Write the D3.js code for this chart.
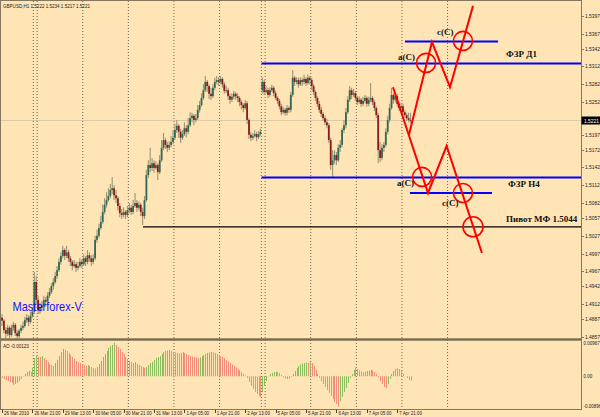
<!DOCTYPE html>
<html><head><meta charset="utf-8">
<script src="https://cdn.jsdelivr.net/npm/d3@7/dist/d3.min.js"></script>
<style>
html,body{margin:0;padding:0;background:#ffe4b5;}
svg{display:block;}
</style></head><body>
<svg id="c" width="600" height="417"></svg>
<script>
// ---------- DATA ----------
const symbol = "GBPUSD,H1";
const opens = [
1.4889,1.4884,1.4868,1.4862,1.4872,1.4860,1.4872,1.4877,1.4863,1.4858,
1.4867,1.4872,1.4875,1.4885,1.4889,1.4882,1.4892,1.4899,1.4949,1.4919,
1.4902,1.4906,1.4911,1.4919,1.4916,1.4926,1.4932,1.4942,1.4949,1.4959,
1.4969,1.4983,1.4993,1.5003,1.4993,1.4999,1.4989,1.4983,1.4976,1.4979,
1.4973,1.4976,1.4983,1.4979,1.4989,1.4983,1.4994,1.4989,1.4983,1.4989,
1.5020,1.5027,1.5040,1.5050,1.5067,1.5079,1.5087,1.5094,1.5104,1.5107,
1.5095,1.5090,1.5077,1.5065,1.5062,1.5067,1.5062,1.5070,1.5074,1.5067,
1.5077,1.5082,1.5074,1.5079,1.5067,1.5060,1.5087,1.5129,1.5146,1.5141,
1.5149,1.5141,1.5146,1.5134,1.5154,1.5175,1.5188,1.5180,1.5175,1.5180,
1.5185,1.5192,1.5205,1.5212,1.5202,1.5192,1.5198,1.5208,1.5202,1.5213,
1.5225,1.5229,1.5222,1.5225,1.5239,1.5247,1.5259,1.5272,1.5286,1.5279,
1.5266,1.5262,1.5276,1.5286,1.5289,1.5286,1.5291,1.5282,1.5271,1.5272,
1.5262,1.5256,1.5261,1.5266,1.5262,1.5259,1.5252,1.5247,1.5242,1.5250,
1.5222,1.5197,1.5192,1.5195,1.5198,1.5193,1.5198,1.5272,1.5286,1.5269,
1.5272,1.5264,1.5272,1.5276,1.5267,1.5259,1.5254,1.5245,1.5235,1.5239,
1.5234,1.5242,1.5239,1.5264,1.5293,1.5286,1.5289,1.5282,1.5289,1.5286,
1.5291,1.5284,1.5293,1.5289,1.5279,1.5269,1.5259,1.5249,1.5239,1.5232,
1.5225,1.5218,1.5213,1.5188,1.5146,1.5154,1.5163,1.5154,1.5175,1.5180,
1.5205,1.5213,1.5235,1.5256,1.5272,1.5264,1.5267,1.5259,1.5252,1.5256,
1.5249,1.5254,1.5259,1.5249,1.5256,1.5259,1.5252,1.5242,1.5230,1.5171,
1.5158,1.5175,1.5180,1.5202,1.5222,1.5242,1.5264,1.5256,1.5262,1.5249,
1.5242,1.5245,1.5235,1.5230,1.5225,1.5222];
const highs = [
1.4895,1.4887,1.4873,1.4877,1.4875,1.4877,1.4882,1.4880,1.4868,1.4870,
1.4877,1.4882,1.4890,1.4895,1.4893,1.4899,1.4906,1.4966,1.4959,1.4926,
1.4914,1.4917,1.4926,1.4924,1.4932,1.4939,1.4947,1.4956,1.4966,1.4976,
1.4989,1.4999,1.5010,1.5006,1.5010,1.5003,1.4993,1.4986,1.4986,1.4983,
1.4983,1.4989,1.4988,1.4996,1.4993,1.5003,1.4999,1.4994,1.4996,1.5027,
1.5037,1.5047,1.5060,1.5079,1.5090,1.5100,1.5107,1.5114,1.5126,1.5112,
1.5104,1.5094,1.5082,1.5072,1.5075,1.5070,1.5077,1.5082,1.5079,1.5087,
1.5099,1.5087,1.5085,1.5082,1.5074,1.5094,1.5138,1.5154,1.5175,1.5158,
1.5154,1.5153,1.5149,1.5163,1.5188,1.5200,1.5192,1.5185,1.5186,1.5195,
1.5205,1.5215,1.5222,1.5215,1.5207,1.5205,1.5218,1.5213,1.5225,1.5235,
1.5234,1.5232,1.5232,1.5247,1.5254,1.5267,1.5282,1.5296,1.5289,1.5282,
1.5276,1.5282,1.5293,1.5296,1.5294,1.5296,1.5294,1.5286,1.5279,1.5276,
1.5266,1.5267,1.5271,1.5269,1.5267,1.5262,1.5256,1.5250,1.5256,1.5254,
1.5225,1.5202,1.5200,1.5205,1.5202,1.5203,1.5207,1.5294,1.5289,1.5279,
1.5276,1.5277,1.5281,1.5279,1.5271,1.5262,1.5257,1.5249,1.5244,1.5242,
1.5247,1.5245,1.5269,1.5306,1.5296,1.5294,1.5293,1.5294,1.5293,1.5298,
1.5294,1.5299,1.5296,1.5293,1.5282,1.5272,1.5262,1.5254,1.5244,1.5235,
1.5229,1.5224,1.5217,1.5192,1.5171,1.5171,1.5168,1.5181,1.5188,1.5208,
1.5222,1.5242,1.5262,1.5279,1.5276,1.5274,1.5271,1.5262,1.5262,1.5259,
1.5261,1.5264,1.5262,1.5261,1.5284,1.5262,1.5256,1.5245,1.5234,1.5185,
1.5181,1.5185,1.5208,1.5229,1.5249,1.5276,1.5267,1.5269,1.5266,1.5252,
1.5250,1.5249,1.5239,1.5234,1.5234,1.5234];
const lows = [
1.4875,1.4863,1.4855,1.4858,1.4855,1.4857,1.4867,1.4858,1.4855,1.4855,
1.4863,1.4868,1.4872,1.4880,1.4875,1.4879,1.4889,1.4895,1.4911,1.4895,
1.4895,1.4900,1.4907,1.4907,1.4912,1.4922,1.4929,1.4936,1.4946,1.4954,
1.4966,1.4978,1.4989,1.4986,1.4989,1.4983,1.4976,1.4969,1.4973,1.4966,
1.4969,1.4973,1.4973,1.4976,1.4976,1.4979,1.4983,1.4976,1.4979,1.4986,
1.5015,1.5023,1.5037,1.5047,1.5063,1.5074,1.5084,1.5090,1.5097,1.5087,
1.5082,1.5070,1.5058,1.5055,1.5058,1.5055,1.5058,1.5065,1.5062,1.5063,
1.5074,1.5067,1.5070,1.5060,1.5045,1.5055,1.5084,1.5124,1.5134,1.5136,
1.5133,1.5138,1.5121,1.5131,1.5151,1.5171,1.5173,1.5168,1.5171,1.5176,
1.5181,1.5188,1.5200,1.5192,1.5183,1.5188,1.5195,1.5193,1.5198,1.5210,
1.5218,1.5213,1.5218,1.5222,1.5234,1.5244,1.5256,1.5269,1.5269,1.5257,
1.5256,1.5259,1.5272,1.5282,1.5279,1.5282,1.5276,1.5266,1.5267,1.5256,
1.5249,1.5252,1.5257,1.5256,1.5252,1.5245,1.5240,1.5235,1.5239,1.5215,
1.5190,1.5186,1.5188,1.5192,1.5186,1.5190,1.5195,1.5266,1.5264,1.5266,
1.5259,1.5261,1.5269,1.5262,1.5256,1.5249,1.5240,1.5230,1.5232,1.5229,
1.5230,1.5234,1.5235,1.5261,1.5279,1.5282,1.5276,1.5279,1.5279,1.5282,
1.5279,1.5281,1.5282,1.5272,1.5264,1.5254,1.5244,1.5234,1.5227,1.5220,
1.5213,1.5208,1.5183,1.5138,1.5126,1.5148,1.5146,1.5151,1.5168,1.5176,
1.5200,1.5208,1.5232,1.5252,1.5257,1.5261,1.5254,1.5247,1.5249,1.5244,
1.5245,1.5250,1.5244,1.5245,1.5252,1.5247,1.5237,1.5225,1.5149,1.5151,
1.5154,1.5168,1.5176,1.5198,1.5218,1.5239,1.5249,1.5252,1.5244,1.5237,
1.5239,1.5230,1.5225,1.5220,1.5218,1.5217];
const closes = [
1.4884,1.4868,1.4862,1.4872,1.4860,1.4872,1.4877,1.4863,1.4858,1.4867,
1.4872,1.4875,1.4885,1.4889,1.4882,1.4892,1.4899,1.4949,1.4919,1.4902,
1.4906,1.4911,1.4919,1.4916,1.4926,1.4932,1.4942,1.4949,1.4959,1.4969,
1.4983,1.4993,1.5003,1.4993,1.4999,1.4989,1.4983,1.4976,1.4979,1.4973,
1.4976,1.4983,1.4979,1.4989,1.4983,1.4994,1.4989,1.4983,1.4989,1.5020,
1.5027,1.5040,1.5050,1.5067,1.5079,1.5087,1.5094,1.5104,1.5107,1.5095,
1.5090,1.5077,1.5065,1.5062,1.5067,1.5062,1.5070,1.5074,1.5067,1.5077,
1.5082,1.5074,1.5079,1.5067,1.5060,1.5087,1.5129,1.5146,1.5141,1.5149,
1.5141,1.5146,1.5134,1.5154,1.5175,1.5188,1.5180,1.5175,1.5180,1.5185,
1.5192,1.5205,1.5212,1.5202,1.5192,1.5198,1.5208,1.5202,1.5213,1.5225,
1.5229,1.5222,1.5225,1.5239,1.5247,1.5259,1.5272,1.5286,1.5279,1.5266,
1.5262,1.5276,1.5286,1.5289,1.5286,1.5291,1.5282,1.5271,1.5272,1.5262,
1.5256,1.5261,1.5266,1.5262,1.5259,1.5252,1.5247,1.5242,1.5250,1.5222,
1.5197,1.5192,1.5195,1.5198,1.5193,1.5198,1.5202,1.5286,1.5269,1.5272,
1.5264,1.5272,1.5276,1.5267,1.5259,1.5254,1.5245,1.5235,1.5239,1.5234,
1.5242,1.5239,1.5264,1.5293,1.5286,1.5289,1.5282,1.5289,1.5286,1.5291,
1.5284,1.5293,1.5289,1.5279,1.5269,1.5259,1.5249,1.5239,1.5232,1.5225,
1.5218,1.5213,1.5188,1.5146,1.5154,1.5163,1.5154,1.5175,1.5180,1.5205,
1.5213,1.5235,1.5256,1.5272,1.5264,1.5267,1.5259,1.5252,1.5256,1.5249,
1.5254,1.5259,1.5249,1.5256,1.5259,1.5252,1.5242,1.5230,1.5171,1.5158,
1.5175,1.5180,1.5202,1.5222,1.5242,1.5264,1.5256,1.5262,1.5249,1.5242,
1.5245,1.5235,1.5230,1.5225,1.5222,1.5221];
const aoValues = [
-0.00048,-0.00076,-0.00104,-0.00133,-0.00161,-0.00189,-0.00246,-0.00217,-0.00189,-0.00133,
-0.00076,0.00008,0.00065,0.00121,0.00149,0.00121,0.00234,0.00516,0.00572,0.00558,
0.00544,0.00572,0.00516,0.00460,0.00403,0.00347,0.00319,0.00290,0.00375,0.00460,
0.00572,0.00685,0.00770,0.00742,0.00713,0.00657,0.00601,0.00544,0.00488,0.00431,
0.00403,0.00375,0.00347,0.00319,0.00290,0.00319,0.00290,0.00262,0.00234,0.00220,
0.00262,0.00347,0.00431,0.00544,0.00629,0.00713,0.00798,0.00854,0.00883,0.00945,
0.00883,0.00826,0.00770,0.00685,0.00629,0.00544,0.00488,0.00431,0.00403,0.00375,
0.00403,0.00347,0.00319,0.00290,0.00262,0.00234,0.00262,0.00319,0.00375,0.00403,
0.00460,0.00516,0.00544,0.00572,0.00629,0.00685,0.00713,0.00727,0.00742,0.00713,
0.00685,0.00671,0.00657,0.00643,0.00657,0.00685,0.00657,0.00629,0.00601,0.00572,
0.00558,0.00544,0.00530,0.00516,0.00530,0.00572,0.00601,0.00629,0.00657,0.00671,
0.00685,0.00671,0.00657,0.00629,0.00601,0.00572,0.00544,0.00516,0.00460,0.00417,
0.00375,0.00333,0.00290,0.00248,0.00206,0.00164,0.00121,0.00065,0.00023,-0.00048,
-0.00161,-0.00274,-0.00358,-0.00443,-0.00499,-0.00556,-0.00584,-0.00443,-0.00274,-0.00133,
0.00008,0.00065,0.00093,0.00121,0.00135,0.00121,0.00093,0.00037,-0.00034,-0.00062,
-0.00076,-0.00062,-0.00020,0.00065,0.00149,0.00234,0.00290,0.00333,0.00361,0.00375,
0.00389,0.00375,0.00389,0.00375,0.00290,0.00178,0.00065,-0.00048,-0.00133,-0.00217,
-0.00302,-0.00387,-0.00471,-0.00556,-0.00640,-0.00725,-0.00781,-0.00860,-0.00697,-0.00584,
-0.00443,-0.00330,-0.00189,-0.00048,0.00065,0.00178,0.00234,0.00206,0.00164,0.00135,
0.00121,0.00135,0.00149,0.00164,0.00178,0.00164,0.00121,0.00065,-0.00034,-0.00133,
-0.00217,-0.00302,-0.00330,-0.00217,-0.00076,0.00065,0.00149,0.00206,0.00234,0.00206,
0.00149,0.00065,0.00008,-0.00048,-0.00104,-0.00123];

const timeTickBars = [0,16,32,48,64,80,96,112,128,144,160,176,192,208];
const timeTickLabels = ["26 Mar 2010","26 Mar 21:00","29 Mar 13:00","30 Mar 05:00","30 Mar 21:00",
  "31 Mar 13:00","1 Apr 05:00","1 Apr 21:00","2 Apr 13:00","5 Apr 05:00","5 Apr 21:00",
  "6 Apr 13:00","7 Apr 05:00","7 Apr 21:00"];
const priceTicks = [1.5397,1.5367,1.5342,1.5312,1.5282,1.5252,1.5197,1.5172,1.5142,1.5112,
  1.5082,1.5057,1.5027,1.4997,1.4967,1.4942,1.4912,1.4887,1.4857];
const aoTicks = [0.00967,0,-0.00896];
const aoTickLabels = ["0.00967","0.00","-0.00896"];
const daySeparators = [16.5,18.5,42.5,66.5,90.5,114.5,136.5,138.5,162.5,186.5,210.5,234.5];

// levels (price, start bar, end bar; null = to the right edge)
const levelNames = ["ФЗР Д1","ФЗР Н4","c(C) up","c(C) down","Пивот МФ 1.5044"];
const levelPrices = [1.5317,1.5125,1.5354,1.5099,1.5042];
const levelStarts = [136.6,136.6,212.1,214.7,74.2];
const levelEnds   = [null,null,261.1,257.9,null];
const levelColors = ["#0000ff","#0000ff","#0000ff","#0000ff","#000000"];

// forecast zigzags (bar index, price)
const zigzagDownBars = [205.8,224.2,234.0,252.6];
const zigzagDownPrices = [1.5277,1.5099,1.5178,1.4998];
const zigzagUpBars = [214.2,226.3,235.8,247.9];
const zigzagUpPrices = [1.5197,1.5353,1.5277,1.5414];
const circleBars = [223.2,242.6,221.1,242.6,247.9];
const circlePrices = [1.5318,1.5355,1.5126,1.5099,1.5042];

// annotations (text, bar, price)
const noteTexts = ["a(C)","c(C)","ФЗР Д1","a(C)","ФЗР Н4","c(C)","Пивот МФ 1.5044"];
const noteBars = [208.4,228.9,265.3,207.9,266.3,231.6,265.3];
const notePrices = [1.5323,1.5365,1.5328,1.5111,1.5109,1.5077,1.5050];

// ---------- DRAW ----------
const svg = d3.select("#c");
const BG = "#ffe4b5", FRAME = "#85785f";
const RIGHT = 581.5;
const x = d3.scaleLinear().domain([0,304.5]).range([2, 2+304.5*1.9]);
const y = d3.scaleLinear().domain([1.48548,1.54222]).range([338,1]);
const ya = d3.scaleLinear().domain([-0.00896,0.00967]).range([408,342]);

svg.append("rect").attr("width",600).attr("height",417).attr("fill",BG);

const defs = svg.append("defs");
defs.append("clipPath").attr("id","pc").append("rect").attr("x",1).attr("y",1).attr("width",RIGHT-1).attr("height",337);
defs.append("clipPath").attr("id","ac").append("rect").attr("x",1).attr("y",341).attr("width",RIGHT-1).attr("height",68);

// day separators
svg.append("g").selectAll("line").data(daySeparators).join("line")
  .attr("x1",d=>x(d)).attr("x2",d=>x(d)).attr("y1",1).attr("y2",409)
  .attr("stroke","#6e6656").attr("stroke-width",1).attr("stroke-dasharray","1,2");

const pg = svg.append("g").attr("clip-path","url(#pc)");
// bid line
const last = closes.length-1;
pg.append("line").attr("x1",1).attr("x2",RIGHT).attr("y1",y(closes[last])).attr("y2",y(closes[last]))
  .attr("stroke","#dccaa6").attr("stroke-width",1);

// candles
const idx = d3.range(closes.length);
pg.append("g").selectAll("line").data(idx).join("line")
  .attr("x1",i=>x(i)).attr("x2",i=>x(i)).attr("y1",i=>y(highs[i])).attr("y2",i=>y(lows[i]))
  .attr("stroke","#9c9474").attr("stroke-width",1.1);
pg.append("g").selectAll("rect").data(idx).join("rect")
  .attr("x",i=>x(i)-0.9).attr("width",1.8)
  .attr("y",i=>y(Math.max(opens[i],closes[i])))
  .attr("height",i=>Math.max(1,Math.abs(y(opens[i])-y(closes[i]))))
  .attr("fill",i=>closes[i]>=opens[i]?"#2e6a58":"#8a1c1c");

// levels
levelPrices.forEach((p,k)=>{
  pg.append("line").attr("x1",x(levelStarts[k])).attr("x2",levelEnds[k]==null?RIGHT:x(levelEnds[k]))
    .attr("y1",y(p)).attr("y2",y(p))
    .attr("stroke",levelColors[k]).attr("stroke-width",k===4?1.3:2);
});

// zigzags
const line = d3.line().x(d=>x(d[0])).y(d=>y(d[1]));
pg.append("path").attr("d",line(zigzagDownBars.map((b,i)=>[b,zigzagDownPrices[i]])))
  .attr("fill","none").attr("stroke","#ff0000").attr("stroke-width",2).attr("stroke-linejoin","miter");
pg.append("path").attr("d",line(zigzagUpBars.map((b,i)=>[b,zigzagUpPrices[i]])))
  .attr("fill","none").attr("stroke","#ff0000").attr("stroke-width",2).attr("stroke-linejoin","miter");
pg.append("g").selectAll("circle").data(circleBars).join("circle")
  .attr("cx",(b)=>x(b)).attr("cy",(b,i)=>y(circlePrices[i])).attr("r",(b,i)=>i===4?10:9.5)
  .attr("fill","none").attr("stroke","#ff0000").attr("stroke-width",1.6);

// annotations
pg.append("g").selectAll("text").data(noteTexts).join("text")
  .attr("x",(t,i)=>x(noteBars[i])).attr("y",(t,i)=>y(notePrices[i]))
  .attr("font-family","'Liberation Serif','Times New Roman',serif").attr("font-weight","bold")
  .attr("font-size",9).attr("fill","#111").text(t=>t);

// Masterforex-V
svg.append("text").attr("transform","translate(12.5,310.5) scale(0.85,1)")
  .attr("font-family","'Liberation Sans',Arial,sans-serif").attr("font-size",13)
  .attr("fill","#1414ff").text("Masterforex-V");

// title
svg.append("text").attr("transform","translate(3,8) scale(0.76,1)")
  .attr("font-family","'Liberation Sans',Arial,sans-serif").attr("font-size",6).attr("fill","#222")
  .text(`${symbol} ${opens[last].toFixed(4)} ${highs[last].toFixed(4)} ${lows[last].toFixed(4)} ${closes[last].toFixed(4)}`);

// AO histogram
const ag = svg.append("g").attr("clip-path","url(#ac)");
ag.selectAll("line").data(idx).join("line")
  .attr("x1",i=>Math.round(x(i))+0.5).attr("x2",i=>Math.round(x(i))+0.5)
  .attr("y1",ya(0)).attr("y2",i=>ya(aoValues[i]))
  .attr("stroke",i=>(i===0||aoValues[i]>=aoValues[i-1])?"#8dbc5e":"#f38d75").attr("stroke-width",1);
svg.append("text").attr("transform","translate(3,348) scale(0.76,1)")
  .attr("font-family","'Liberation Sans',Arial,sans-serif").attr("font-size",6).attr("fill","#222")
  .text(`AO ${aoValues[last].toFixed(5)}`);

// frames
const fr = svg.append("g").attr("stroke",FRAME).attr("fill","none");
fr.append("rect").attr("x",0.5).attr("y",0.5).attr("width",RIGHT-0.5).attr("height",409);
svg.append("rect").attr("x",0.5).attr("y",338.3).attr("width",RIGHT).attr("height",2.4).attr("fill","#776b55");

// right price axis
const ax = svg.append("g");
ax.selectAll("line").data(priceTicks).join("line")
  .attr("x1",RIGHT).attr("x2",RIGHT+2.5).attr("y1",d=>Math.round(y(d))+0.5).attr("y2",d=>Math.round(y(d))+0.5)
  .attr("stroke",FRAME);
ax.selectAll("text").data(priceTicks).join("text")
  .attr("transform",d=>`translate(585,${y(d)+2}) scale(0.9,1)`)
  .attr("font-family","'Liberation Sans',Arial,sans-serif").attr("font-size",5.5).attr("fill","#222")
  .text(d=>d.toFixed(4));
// current price box
svg.append("rect").attr("x",RIGHT).attr("y",y(closes[last])-4).attr("width",18.5).attr("height",8).attr("fill","#000");
svg.append("text").attr("transform",`translate(584,${y(closes[last])+2}) scale(0.9,1)`)
  .attr("font-family","'Liberation Sans',Arial,sans-serif").attr("font-size",5.5).attr("fill","#fff")
  .text(closes[last].toFixed(4));
// AO axis
svg.append("g").selectAll("text").data(aoTicks).join("text")
  .attr("transform",(d,i)=>`translate(583.5,${ya(d)+(i===0?3:(i===2?0:2))}) scale(0.82,1)`)
  .attr("font-family","'Liberation Sans',Arial,sans-serif").attr("font-size",5.5).attr("fill","#222")
  .text((d,i)=>aoTickLabels[i]);

// time axis
const tx = svg.append("g");
tx.selectAll("line").data(timeTickBars).join("line")
  .attr("x1",d=>Math.round(x(d))+0.5).attr("x2",d=>Math.round(x(d))+0.5).attr("y1",409.5).attr("y2",413)
  .attr("stroke","#444");
tx.selectAll("text").data(timeTickBars).join("text")
  .attr("transform",d=>`translate(${x(d)+2},415) scale(0.74,1)`)
  .attr("font-family","'Liberation Sans',Arial,sans-serif").attr("font-size",6).attr("fill","#222")
  .text((d,i)=>timeTickLabels[i]);
</script>
</body></html>
